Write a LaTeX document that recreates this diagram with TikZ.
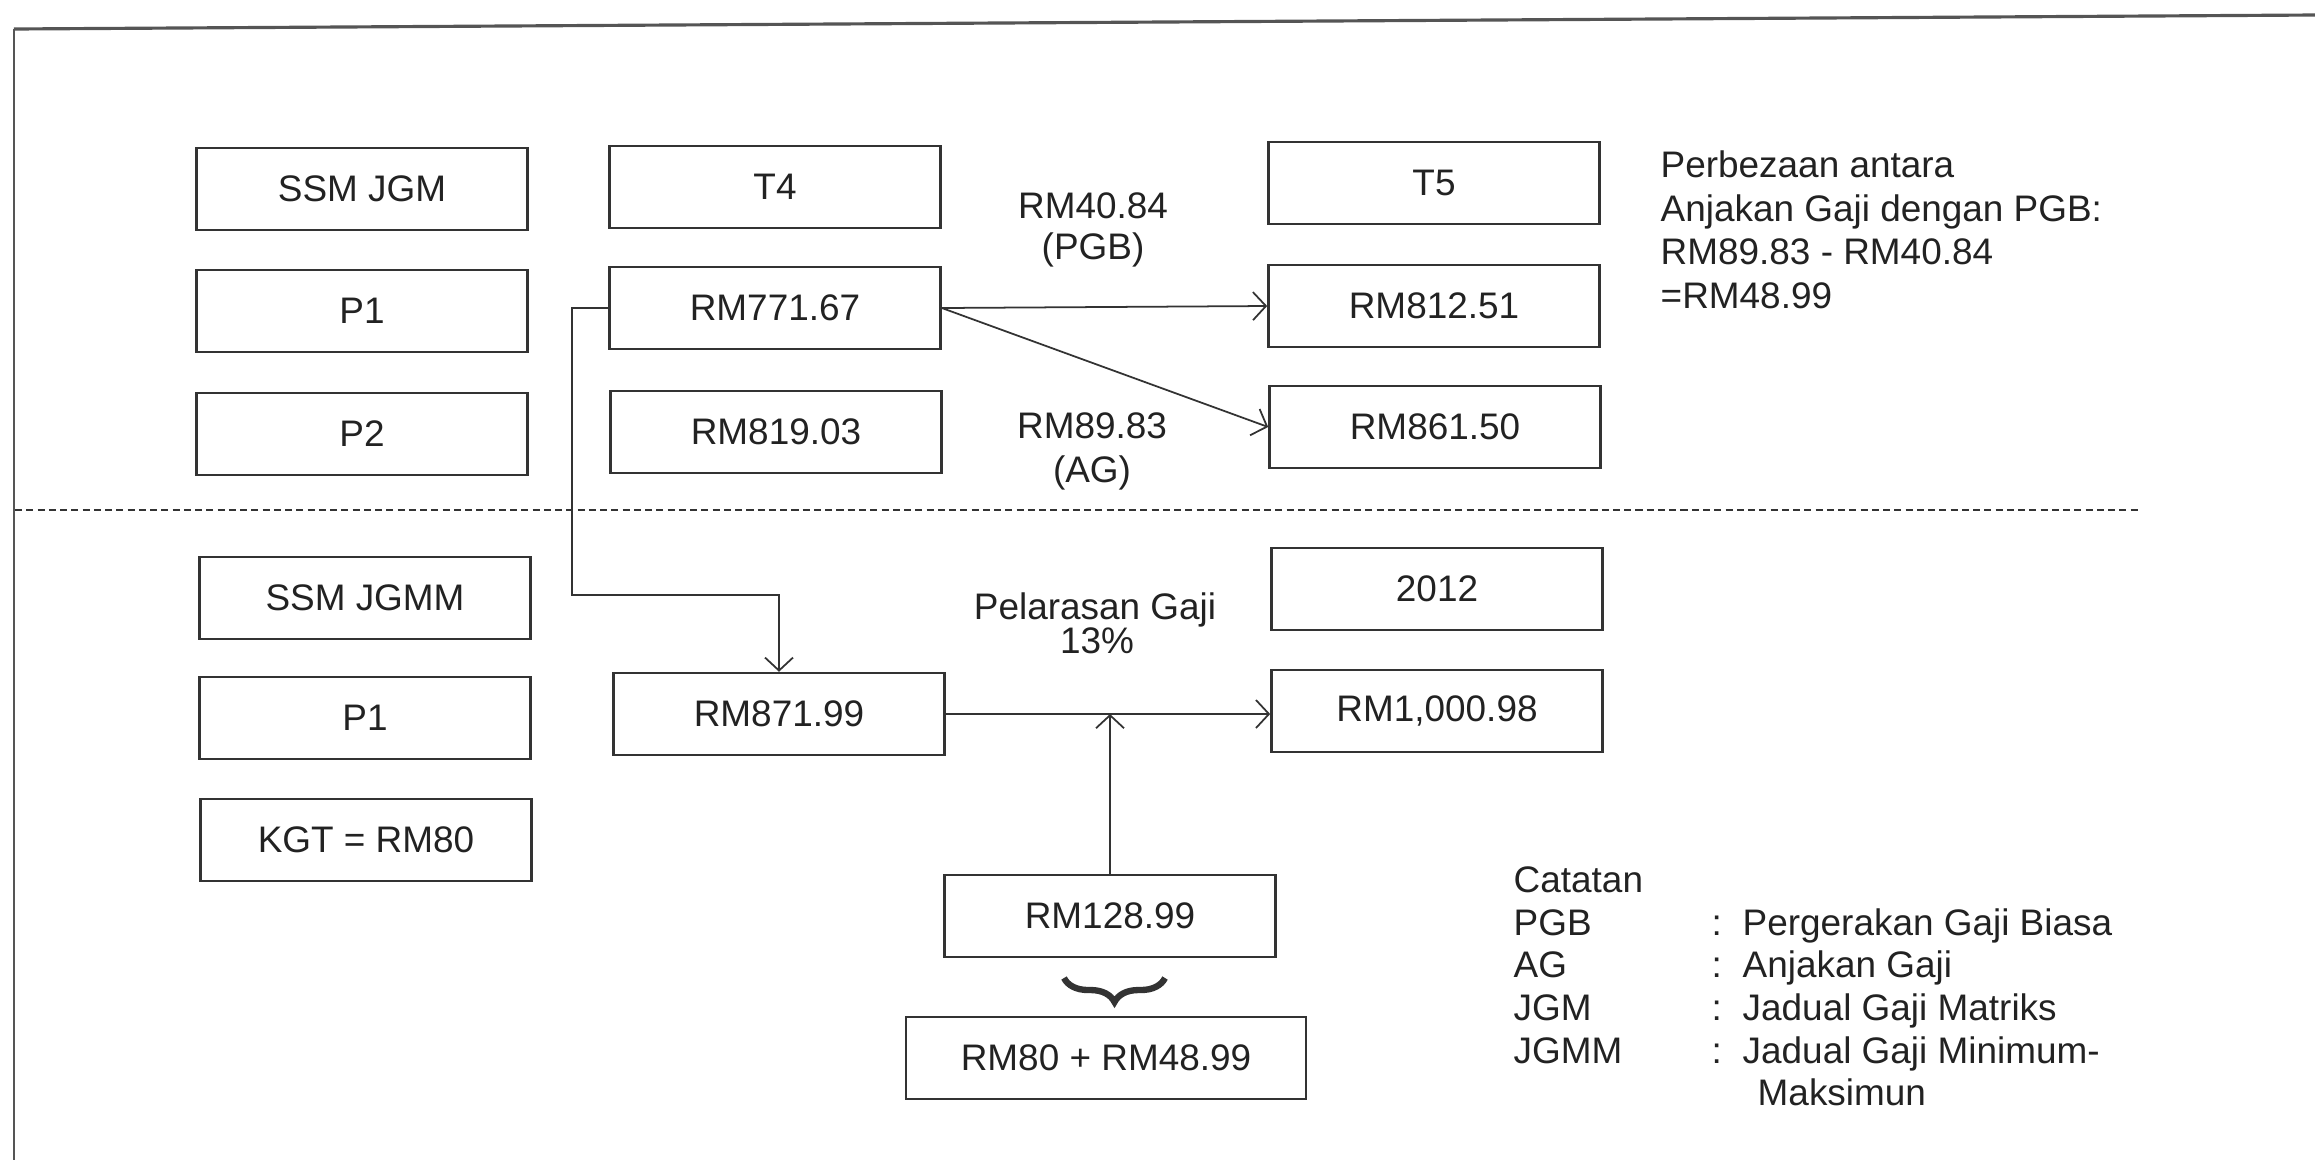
\documentclass[tikz,border=0pt]{standalone}
\usepackage{fontspec}
\setmainfont{Liberation Sans}
\usetikzlibrary{arrows.meta,decorations.pathreplacing}
\definecolor{ink}{HTML}{333333}
\definecolor{txt}{HTML}{222222}
\definecolor{framec}{HTML}{555555}
\begin{document}
\begin{tikzpicture}[x=0.01cm,y=-0.01cm,
  box/.style={draw=ink,line width=0.7pt,minimum width=3.31cm,minimum height=0.82cm,inner sep=0pt,
    font=\fontsize{10.5}{12.5}\selectfont,text=txt},
  lbl/.style={inner sep=0pt,font=\fontsize{10.5}{12.5}\selectfont,text=txt},
  conn/.style={draw=ink,line width=0.5pt},
  arr/.style={conn,-{Straight Barb[length=1.3mm,width=2.8mm]}},
  bracestyle/.style={draw=ink,line width=1.8pt,decorate,decoration={brace,mirror,amplitude=0.24cm}}
]
\useasboundingbox (0,0) rectangle (2315,1160);
% page frame
\draw[framec,line width=0.9pt] (14,29) -- (2315,15);
\draw[framec,line width=0.6pt] (14,29) -- (14,1160);
% dashed separator
\draw[ink,line width=0.5pt,dash pattern=on 2pt off 1.2pt] (15,510) -- (2139,510);

% upper boxes
\node[box] (ssmjgm) at (362,189) {SSM JGM};
\node[box] (t4) at (775,187) {T4};
\node[box] (t5) at (1434,183) {T5};
\node[box] (p1a) at (362,311) {P1};
\node[box] (rm77167) at (775,308) {RM771.67};
\node[box] (rm81251) at (1434,306) {RM812.51};
\node[box] (p2) at (362,434) {P2};
\node[box] (rm81903) at (776,432) {RM819.03};
\node[box] (rm86150) at (1435,427) {RM861.50};

% lower boxes
\node[box] (ssmjgmm) at (365,598) {SSM JGMM};
\node[box] (p1b) at (365,718) {P1};
\node[box] (kgt) at (366,840) {KGT = RM80};
\node[box] (rm87199) at (779,714) {RM871.99};
\node[box] (y2012) at (1437,589) {2012};
\node[box] (rm100098) at (1437,711) {RM1,000.98};
\node[box] (rm12899) at (1110,916) {RM128.99};
\node[box,minimum width=4cm] (rmsum) at (1106,1058) {RM80 + RM48.99};

% labels
\node[lbl,anchor=base] (pgbv) at (1093,218) {RM40.84};
\node[lbl,anchor=base] (pgbt) at (1093,259) {(PGB)};
\node[lbl,anchor=base] (agv) at (1092,438) {RM89.83};
\node[lbl,anchor=base] (agt) at (1092,482) {(AG)};
\node[lbl,anchor=base] (pel1) at (1095,619) {Pelarasan Gaji};
\node[lbl,anchor=base] (pel2) at (1097,653) {13\%};

% right note
\node[lbl,anchor=base west] (n1) at (1660,177) {Perbezaan antara};
\node[lbl,anchor=base west] (n2) at (1660,221) {Anjakan Gaji dengan PGB:};
\node[lbl,anchor=base west] (n3) at (1660,264) {RM89.83 - RM40.84};
\node[lbl,anchor=base west] (n4) at (1660,308) {=RM48.99};

% Catatan
\node[lbl,anchor=base west] (c0) at (1513,892) {Catatan};
\node[lbl,anchor=base west] (c1) at (1513,935) {PGB};
\node[lbl,anchor=base west] (c2) at (1513,977) {AG};
\node[lbl,anchor=base west] (c3) at (1513,1020) {JGM};
\node[lbl,anchor=base west] (c4) at (1513,1063) {JGMM};
\node[lbl,anchor=base west] (d1c) at (1711,935) {:};
\node[lbl,anchor=base west] (d2c) at (1711,977) {:};
\node[lbl,anchor=base west] (d3c) at (1711,1020) {:};
\node[lbl,anchor=base west] (d4c) at (1711,1063) {:};
\node[lbl,anchor=base west] (d1) at (1742,935) {Pergerakan Gaji Biasa};
\node[lbl,anchor=base west] (d2) at (1742,977) {Anjakan Gaji};
\node[lbl,anchor=base west] (d3) at (1742,1020) {Jadual Gaji Matriks};
\node[lbl,anchor=base west] (d4) at (1742,1063) {Jadual Gaji Minimum-};
\node[lbl,anchor=base west] (d5) at (1757,1105) {Maksimun};

% connectors
\draw[arr] (rm77167.east) -- (rm81251.west);
\draw[arr] (rm77167.east) -- (rm86150.west);
\coordinate (k1) at (572,595);
\draw[arr] (rm77167.west) -| (k1) -| (rm87199.north);
\draw[arr] (rm87199.east) -- (rm87199.east -| rm100098.west);
\draw[arr] (rm12899.north) -- (rm12899.north |- rm87199.east);

% brace
\coordinate (bl) at (1064,978);
\coordinate (br) at (1165,978);
\draw[bracestyle] (bl) -- (br);
\end{tikzpicture}
\end{document}
